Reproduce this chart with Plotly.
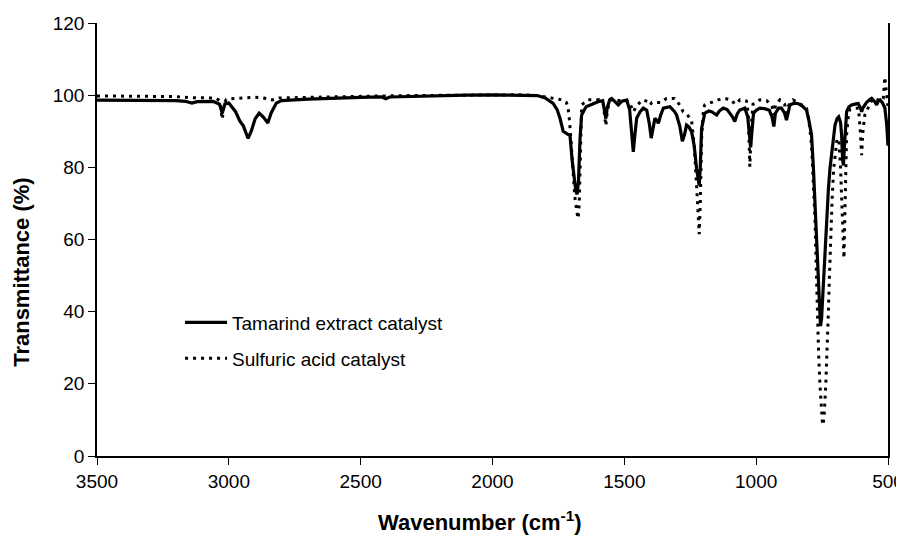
import plotly.graph_objects as go

# Tamarind extract catalyst (solid)
tam_wn = [3500, 3400, 3300, 3200, 3165, 3140, 3120, 3060, 3035, 3025, 3015, 3000, 2975, 2958, 2945, 2927,
          2915, 2900, 2885, 2870, 2852, 2840, 2820, 2800, 2700, 2600, 2500, 2420, 2405, 2390, 2300, 2200,
          2100, 2000, 1900, 1830, 1800, 1770, 1755, 1744, 1732, 1715, 1706, 1698, 1690, 1684, 1679, 1674,
          1668, 1662, 1645, 1630, 1600, 1582, 1575, 1570, 1565, 1555, 1548, 1535, 1523, 1510, 1491, 1480,
          1470, 1466, 1460, 1453, 1440, 1428, 1415, 1405, 1398, 1392, 1384, 1377, 1371, 1362, 1352, 1327,
          1310, 1302, 1290, 1280, 1272, 1264, 1255, 1245, 1235, 1226, 1220, 1216, 1212, 1207, 1195, 1180,
          1169, 1150, 1140, 1125, 1110, 1100, 1090, 1081, 1072, 1062, 1043, 1032, 1025, 1021, 1016, 1010,
          1000, 986, 965, 950, 940, 933, 927, 915, 904, 892, 885, 878, 872, 855, 842, 825, 809, 800, 790,
          783, 777, 770, 764, 760, 756, 752, 746, 740, 733, 726, 720, 710, 701, 693, 687, 680, 676, 672,
          669, 665, 660, 657, 648, 638, 625, 613, 605, 600, 595, 581, 570, 562, 550, 543, 536, 530, 522,
          518, 512, 505, 500]
tam_t = [98.6, 98.6, 98.6, 98.5, 98.3, 97.8, 98.2, 98.3, 97.5, 95.0, 97.6, 97.8, 95.5, 92.8, 91.5, 88.0,
         90.0, 93.5, 95.0, 94.0, 92.3, 95.0, 97.8, 98.5, 98.9, 99.2, 99.4, 99.5, 99.0, 99.5, 99.7, 99.9,
         100.0, 100.1, 100.1, 99.9, 99.2, 97.7, 96.0, 93.6, 90.0, 89.2, 88.8, 82.0, 76.0, 73.5, 72.5, 76.0,
         88.0, 94.5, 96.8, 97.3, 98.2, 98.5, 96.0, 93.5, 96.5, 98.8, 99.1, 98.3, 97.3, 98.3, 98.6, 96.0,
         88.0, 84.3, 89.0, 93.7, 95.4, 96.4, 95.8, 92.0, 88.1, 91.0, 93.6, 93.0, 92.2, 94.5, 96.4, 96.8,
         95.5, 94.5, 91.5, 87.2, 89.0, 91.7, 91.2, 89.9, 86.0, 79.7, 76.0, 75.0, 80.0, 90.8, 95.0, 95.6,
         95.4, 94.5, 95.6, 96.4, 96.0, 95.0, 94.0, 92.7, 94.8, 95.9, 96.4, 94.0, 88.0, 85.5, 90.0, 95.0,
         95.8, 96.4, 96.2, 95.8, 94.0, 91.3, 95.0, 96.4, 96.4, 95.0, 93.1, 95.5, 97.3, 97.8, 97.7, 97.0, 95.9, 93.0, 89.0,
         80.0, 70.5, 57.0, 47.4, 40.0, 36.0, 38.0, 47.4, 56.0, 66.0, 74.0, 79.7, 87.0, 91.7, 93.5, 94.0, 92.5, 89.0, 82.0,
         80.5, 86.0, 93.0, 95.4, 96.8, 97.3, 97.5, 97.7, 96.5, 95.4, 96.5, 98.0, 98.7, 99.1, 98.2, 97.3, 98.5, 98.7, 98.0,
         97.3, 96.5, 92.0, 86.0]

# Sulfuric acid catalyst (dotted)
sul_wn = [3500, 3400, 3300, 3200, 3140, 3100, 3050, 3035, 3025, 3018, 3010, 3000, 2950, 2900, 2870, 2850,
          2835, 2810, 2700, 2600, 2500, 2400, 2300, 2200, 2100, 2000, 1900, 1830, 1790, 1760, 1733, 1720,
          1714, 1708, 1702, 1695, 1688, 1680, 1675, 1671, 1667, 1662, 1638, 1596, 1580, 1574, 1570, 1566,
          1558, 1552, 1520, 1490, 1475, 1465, 1455, 1430, 1410, 1403, 1395, 1360, 1340, 1310, 1290, 1277,
          1264, 1245, 1235, 1226, 1220, 1216, 1212, 1207, 1200, 1195, 1169, 1144, 1119, 1094, 1081, 1075,
          1062, 1037, 1030, 1024, 1018, 1012, 1005, 986, 960, 940, 933, 926, 910, 892, 885, 878, 860, 835,
          809, 800, 790, 783, 777, 772, 768, 763, 758, 753, 749, 746, 742, 736, 731, 727, 722, 718, 712,
          706, 699, 693, 686, 680, 674, 670, 667, 662, 657, 650, 645, 626, 612, 606, 600, 595, 588, 581,
          570, 556, 540, 524, 518, 512, 505, 500]
sul_t = [99.8, 99.8, 99.7, 99.6, 99.3, 99.3, 99.2, 98.5, 93.3, 97.5, 98.8, 99.0, 99.3, 99.4, 99.3, 98.8,
         98.7, 99.2, 99.4, 99.6, 99.7, 99.8, 99.9, 100.0, 100.1, 100.2, 100.1, 99.9, 99.3, 99.0, 98.7, 98.0,
         96.8, 93.0, 87.0, 78.0, 72.0, 67.5, 65.8, 70.0, 85.0, 97.3, 98.7, 98.7, 97.5, 94.0, 91.5, 94.5,
         98.0, 98.7, 98.5, 98.6, 97.0, 95.4, 97.0, 98.7, 98.2, 97.3, 98.0, 98.0, 99.1, 99.1, 97.3, 95.4,
         94.8, 93.0, 86.0, 75.0, 65.0, 61.5, 70.0, 88.0, 96.0, 97.3, 98.0, 98.7, 99.1, 98.7, 97.5, 97.7,
         98.7, 98.4, 95.0, 80.2, 92.0, 97.5, 97.7, 98.7, 98.5, 97.0, 94.5, 97.5, 98.7, 97.5, 94.0, 97.0, 98.7, 97.7,
         96.4, 93.0, 86.2, 76.0, 65.9, 52.0, 38.2, 28.0, 19.7, 13.0, 9.5, 8.6, 11.5, 19.7, 28.0, 38.2, 50.0, 61.3, 71.0,
         79.7, 85.0, 88.0, 87.0, 80.0, 68.0, 58.0, 54.8, 72.0, 89.0, 94.5, 96.0, 96.4, 96.4, 91.0, 83.4, 90.0, 94.5, 95.4,
         97.5, 99.1, 98.7, 98.4, 99.0, 105.0, 100.0, 97.0]

x_ticks = [3500, 3000, 2500, 2000, 1500, 1000, 500]
y_ticks = [0, 20, 40, 60, 80, 100, 120]

FONT = "Liberation Sans, Arial, sans-serif"

fig = go.Figure()
fig.add_trace(go.Scatter(x=tam_wn, y=tam_t, mode="lines", name="Tamarind extract catalyst",
                         line=dict(color="black", width=3.2), legendgroup="a"))
fig.add_trace(go.Scatter(x=sul_wn, y=sul_t, mode="lines", name="Sulfuric acid catalyst",
                         line=dict(color="black", width=3.0, dash="3px,5px"), legendgroup="b"))

# the page body has an 8px margin, so the figure is drawn 8px in from the top-left corner
fig.update_layout(
    width=896, height=528,
    margin=dict(l=89, r=16, t=15, b=80, autoexpand=False),
    paper_bgcolor="white", plot_bgcolor="white",
    font=dict(family=FONT, size=19, color="black"),
    showlegend=True,
    legend=dict(x=0.105, y=0.352, xanchor="left", yanchor="top", bgcolor="rgba(0,0,0,0)",
                font=dict(size=19), tracegroupgap=8, itemwidth=42),
    xaxis=dict(range=[3500, 500], tickvals=x_ticks, ticktext=[str(v) for v in x_ticks],
               showgrid=False, zeroline=False, showline=True, linecolor="black", linewidth=1.5,
               ticks="outside", ticklen=7, tickwidth=1.2, tickcolor="black", automargin=False,
               tickfont=dict(size=19)),
    yaxis=dict(range=[0, 120], tickvals=y_ticks, showgrid=False, zeroline=False, showline=True,
               linecolor="black", linewidth=1.5, mirror=True, automargin=False,
               ticks="outside", ticklen=7, tickwidth=1.2, tickcolor="black",
               tickfont=dict(size=19)),
    annotations=[
        dict(text="<b>Wavenumber (cm<sup>-1</sup>)</b>", xref="paper", yref="paper",
             x=0.484, y=-0.150, xanchor="center", yanchor="middle", showarrow=False,
             font=dict(size=22)),
        dict(text="<b>Transmittance (%)</b>", xref="paper", yref="paper", textangle=-90,
             x=-0.095, y=0.425, xanchor="center", yanchor="middle", showarrow=False,
             font=dict(size=22)),
    ],
)

fig.write_html("out.html")
